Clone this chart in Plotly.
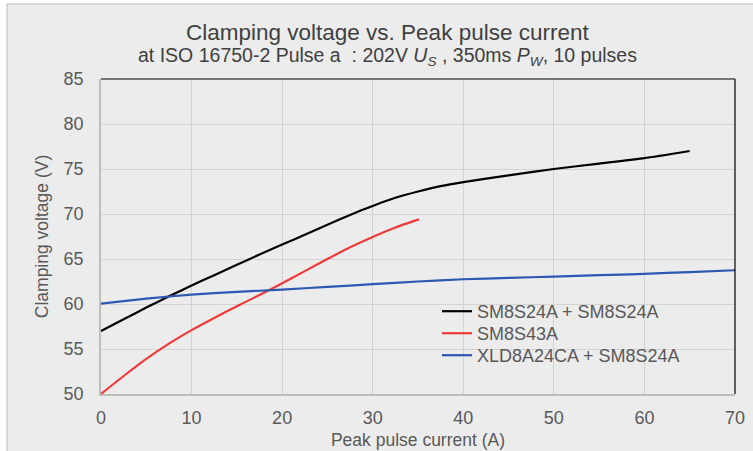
import plotly.graph_objects as go

# Data
black_name = "SM8S24A + SM8S24A"
black_x = [0, 2.5, 5, 7.5, 10, 12.5, 15, 17.5, 20, 22.5, 25, 27.5, 30, 32.5, 35, 37.5, 40, 45, 50, 55, 60, 65]
black_y = [57.0, 58.3, 59.6, 60.85, 62.05, 63.2, 64.35, 65.5, 66.6, 67.7, 68.8, 69.9, 70.9, 71.8, 72.5, 73.1, 73.55, 74.3, 75.0, 75.6, 76.2, 77.0]

red_name = "SM8S43A"
red_x = [0, 2.5, 5, 7.5, 10, 12.5, 15, 17.5, 20, 22.5, 25, 27.5, 30, 32.5, 35.1]
red_y = [50.0, 52.0, 53.9, 55.6, 57.1, 58.45, 59.75, 61.0, 62.3, 63.65, 65.0, 66.3, 67.45, 68.5, 69.4]

blue_name = "XLD8A24CA + SM8S24A"
blue_x = [0, 5, 10, 15, 20, 25, 30, 35, 40, 45, 50, 55, 60, 65, 70]
blue_y = [60.05, 60.6, 61.05, 61.35, 61.6, 61.9, 62.2, 62.5, 62.75, 62.9, 63.05, 63.2, 63.35, 63.55, 63.75]

x_ticks = [0, 10, 20, 30, 40, 50, 60, 70]
y_ticks = [50, 55, 60, 65, 70, 75, 80, 85]

title_text = "Clamping voltage vs. Peak pulse current"
subtitle_text = "at ISO 16750-2 Pulse a  : 202V <i>U</i><sub><i>S</i></sub> , 350ms <i>P</i><sub><i>W</i></sub>, 10 pulses"
x_title = "Peak pulse current (A)"
y_title = "Clamping voltage (V)"

BG = "#ececec"
GRID = "#d3d3d3"
TXT = "#595959"
FONT = "Liberation Sans, Arial, sans-serif"

W, H = 753, 451
L, R, T, B = 101, 18, 79, 57
PW, PH = W - L - R, H - T - B


def px(xp):
    return (xp - L) / PW


def py(yp):
    return (H - B - yp) / PH


fig = go.Figure()
fig.add_trace(go.Scatter(x=black_x, y=black_y, mode="lines", name=black_name, legend="legend",
                         line=dict(color="#000000", width=2.2, shape="spline", smoothing=0.5)))
fig.add_trace(go.Scatter(x=red_x, y=red_y, mode="lines", name=red_name, legend="legend2",
                         line=dict(color="#f03a3a", width=2.2, shape="spline", smoothing=0.5)))
fig.add_trace(go.Scatter(x=blue_x, y=blue_y, mode="lines", name=blue_name, legend="legend3",
                         line=dict(color="#2c57b3", width=2.2, shape="spline", smoothing=0.5)))

shapes = [
    # legend background hiding grid
    dict(type="rect", xref="paper", yref="paper", x0=px(410), x1=px(716), y0=py(375), y1=py(297),
         fillcolor=BG, line=dict(width=0), layer="between"),
    # top & right frame lines (black)
    dict(type="line", xref="paper", yref="paper", x0=0, x1=1, y0=1, y1=1,
         line=dict(color="#000000", width=1.2), layer="above"),
    dict(type="line", xref="paper", yref="paper", x0=1, x1=1, y0=0, y1=1,
         line=dict(color="#000000", width=1.2), layer="above"),
    # outer white margins and border
    dict(type="rect", xref="paper", yref="paper", x0=px(-5), x1=px(6.5), y0=py(460), y1=py(-5),
         fillcolor="#ffffff", line=dict(width=0), layer="above"),
    dict(type="rect", xref="paper", yref="paper", x0=px(-5), x1=px(760), y0=py(3.5), y1=py(-5),
         fillcolor="#ffffff", line=dict(width=0), layer="above"),
    dict(type="line", xref="paper", yref="paper", x0=px(7), x1=px(7), y0=py(460), y1=py(4),
         line=dict(color="#cfcfcf", width=1.5), layer="above"),
    dict(type="line", xref="paper", yref="paper", x0=px(7), x1=px(760), y0=py(4), y1=py(4),
         line=dict(color="#cfcfcf", width=1.5), layer="above"),
]

annotations = [
    dict(text=title_text, xref="paper", yref="paper", x=px(387), y=py(32), xanchor="center", yanchor="middle",
         showarrow=False, font=dict(family=FONT, size=22.5, color="#404040")),
    dict(text=subtitle_text, xref="paper", yref="paper", x=px(387), y=py(56), xanchor="center", yanchor="middle",
         showarrow=False, font=dict(family=FONT, size=19.5, color="#404040")),
]


def leg(row_center):
    return dict(x=px(437), y=py(row_center - 18), xanchor="left", yanchor="top",
                bgcolor="rgba(0,0,0,0)", font=dict(family=FONT, size=18, color=TXT),
                tracegroupgap=0, itemwidth=30)


fig.update_layout(
    width=W, height=H,
    margin=dict(l=L, r=R, t=T, b=B),
    paper_bgcolor=BG, plot_bgcolor=BG,
    font=dict(family=FONT, color=TXT, size=18),
    shapes=shapes, annotations=annotations,
    showlegend=True,
    legend=leg(311), legend2=leg(333), legend3=leg(355),
    xaxis=dict(range=[0, 70], tickvals=x_ticks, showgrid=True, gridcolor=GRID, gridwidth=1.2,
               zeroline=False, showline=True, linecolor="#bdbdbd", linewidth=1.5,
               ticks="outside", ticklen=7, tickcolor="rgba(0,0,0,0)", automargin=False,
               title=dict(text=x_title, standoff=6, font=dict(size=17.5, color=TXT)),
               tickfont=dict(size=18, color=TXT)),
    yaxis=dict(range=[50, 85], tickvals=y_ticks, showgrid=True, gridcolor=GRID, gridwidth=1.2,
               zeroline=False, showline=True, linecolor="#bdbdbd", linewidth=1.5,
               ticks="outside", ticklen=12, tickcolor="rgba(0,0,0,0)", automargin=False,
               title=dict(text=y_title, standoff=10, font=dict(size=17.5, color=TXT)),
               tickfont=dict(size=18, color=TXT)),
)

fig.write_html("out.html", config={"displayModeBar": False},
               post_script="document.body.style.margin='0';document.body.style.padding='0';")
